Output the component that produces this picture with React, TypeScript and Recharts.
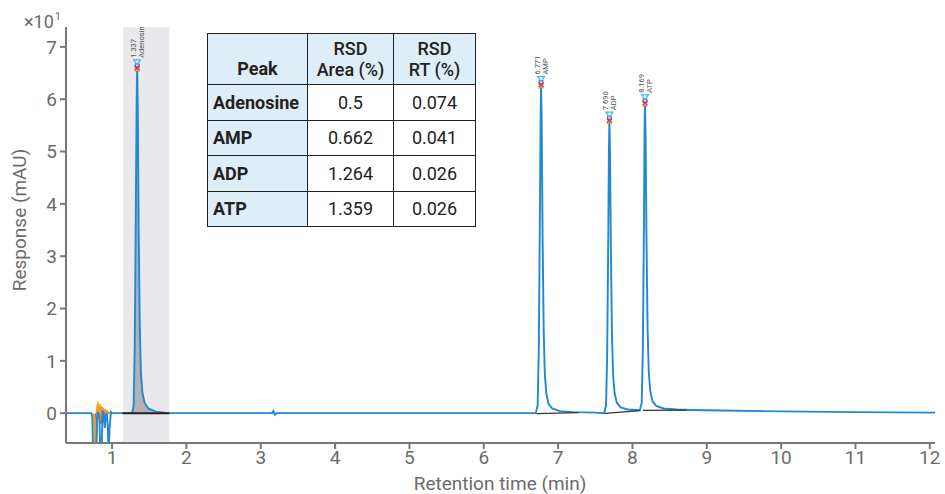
import React from 'react';
import { ComposedChart, Line, Area, XAxis, YAxis, ReferenceArea, Scatter } from 'recharts';

// ---- data (response in x10 mAU, time in min) ----
const xTicks = [1, 2, 3, 4, 5, 6, 7, 8, 9, 10, 11, 12];
const yTicks = [0, 1, 2, 3, 4, 5, 6, 7];

const blueTrace = [
  { t: 0.38, v: 0 }, { t: 0.72, v: 0 }, { t: 0.735, v: -0.1 }, { t: 0.745, v: -0.8 },
  { t: 0.785, v: -0.8 }, { t: 0.797, v: -0.1 }, { t: 0.812, v: 0.02 }, { t: 0.828, v: -0.05 },
  { t: 0.843, v: -0.8 }, { t: 0.858, v: -0.8 }, { t: 0.872, v: 0.05 }, { t: 0.885, v: 0.0 },
  { t: 0.902, v: -0.28 }, { t: 0.915, v: -0.05 }, { t: 0.927, v: 0.0 }, { t: 0.94, v: -0.2 },
  { t: 0.955, v: -0.8 }, { t: 0.965, v: -0.3 }, { t: 0.985, v: 0.02 }, { t: 1.0, v: 0 },
  { t: 1.27, v: 0.0 }, { t: 1.29, v: 0.15 }, { t: 1.305, v: 1.3 }, { t: 1.32, v: 4.0 },
  { t: 1.33, v: 5.9 }, { t: 1.337, v: 6.6 }, { t: 1.345, v: 5.9 }, { t: 1.357, v: 3.6 },
  { t: 1.372, v: 1.7 }, { t: 1.387, v: 0.8 }, { t: 1.407, v: 0.4 }, { t: 1.437, v: 0.2 },
  { t: 1.487, v: 0.09 }, { t: 1.587, v: 0.03 }, { t: 1.75, v: 0.0 },
  { t: 3.15, v: 0.0 }, { t: 3.17, v: 0.04 }, { t: 3.19, v: -0.03 }, { t: 3.21, v: 0.0 },
  { t: 6.7, v: 0.0 }, { t: 6.725, v: 0.15 }, { t: 6.74, v: 1.2 }, { t: 6.755, v: 3.8 },
  { t: 6.764, v: 5.6 }, { t: 6.771, v: 6.28 }, { t: 6.779, v: 5.6 }, { t: 6.791, v: 3.4 },
  { t: 6.806, v: 1.6 }, { t: 6.821, v: 0.75 }, { t: 6.841, v: 0.38 }, { t: 6.871, v: 0.18 },
  { t: 6.921, v: 0.09 }, { t: 7.02, v: 0.04 }, { t: 7.2, v: 0.02 }, { t: 7.5, v: 0.01 },
  { t: 7.62, v: 0.0 }, { t: 7.645, v: 0.15 }, { t: 7.66, v: 1.1 }, { t: 7.675, v: 3.4 },
  { t: 7.683, v: 5.0 }, { t: 7.69, v: 5.6 }, { t: 7.698, v: 5.0 }, { t: 7.71, v: 3.1 },
  { t: 7.725, v: 1.45 }, { t: 7.74, v: 0.72 }, { t: 7.76, v: 0.38 }, { t: 7.79, v: 0.2 },
  { t: 7.84, v: 0.11 }, { t: 7.94, v: 0.07 }, { t: 8.05, v: 0.06 }, { t: 8.1, v: 0.055 },
  { t: 8.125, v: 0.2 }, { t: 8.14, v: 1.25 }, { t: 8.155, v: 3.6 }, { t: 8.162, v: 5.3 },
  { t: 8.169, v: 5.93 }, { t: 8.177, v: 5.3 }, { t: 8.189, v: 3.3 }, { t: 8.204, v: 1.6 },
  { t: 8.219, v: 0.8 }, { t: 8.239, v: 0.42 }, { t: 8.269, v: 0.23 }, { t: 8.319, v: 0.14 },
  { t: 8.419, v: 0.09 }, { t: 8.6, v: 0.07 }, { t: 8.8, v: 0.06 }, { t: 9.2, v: 0.05 },
  { t: 10.0, v: 0.035 }, { t: 11.0, v: 0.02 }, { t: 12.07, v: 0.01 },
];

const orangeTrace = [
  { t: 0.72, v: 0 }, { t: 0.765, v: -0.05 }, { t: 0.775, v: -0.8 }, { t: 0.79, v: -0.8 },
  { t: 0.8, v: 0.05 }, { t: 0.812, v: 0.18 }, { t: 0.822, v: -0.12 }, { t: 0.835, v: 0.14 },
  { t: 0.847, v: -0.15 }, { t: 0.857, v: 0.12 }, { t: 0.87, v: -0.05 }, { t: 0.882, v: 0.1 },
  { t: 0.895, v: -0.1 }, { t: 0.91, v: 0.08 }, { t: 0.925, v: -0.05 }, { t: 0.94, v: 0.03 },
  { t: 0.96, v: 0.0 }, { t: 1.0, v: 0 },
];

const yellowTrace = [
  { t: 0.75, v: 0 }, { t: 0.768, v: -0.8 }, { t: 0.782, v: -0.3 }, { t: 0.795, v: 0.12 },
  { t: 0.81, v: 0.22 }, { t: 0.825, v: 0.05 }, { t: 0.84, v: 0.18 }, { t: 0.855, v: 0.02 },
  { t: 0.87, v: 0.12 }, { t: 0.89, v: 0.02 }, { t: 0.92, v: 0.04 }, { t: 0.95, v: 0 }, { t: 1.0, v: 0 },
];

const redTrace = [
  { t: 0.78, v: 0 }, { t: 0.795, v: -0.4 }, { t: 0.805, v: 0.08 }, { t: 0.82, v: -0.1 },
  { t: 0.832, v: 0.12 }, { t: 0.85, v: -0.2 }, { t: 0.862, v: 0.06 }, { t: 0.88, v: -0.12 },
  { t: 0.9, v: 0.05 }, { t: 0.92, v: -0.04 }, { t: 0.94, v: 0 }, { t: 1.0, v: 0 },
];

const adenosineArea = [
  { t: 1.27, v: 0.0 }, { t: 1.29, v: 0.15 }, { t: 1.305, v: 1.3 }, { t: 1.32, v: 4.0 },
  { t: 1.33, v: 5.9 }, { t: 1.337, v: 6.6 }, { t: 1.345, v: 5.9 }, { t: 1.357, v: 3.6 },
  { t: 1.372, v: 1.7 }, { t: 1.387, v: 0.8 }, { t: 1.407, v: 0.4 }, { t: 1.437, v: 0.2 },
  { t: 1.487, v: 0.09 }, { t: 1.587, v: 0.03 }, { t: 1.75, v: 0.0 },
];

const baseAdenosine = [{ t: 1.14, v: 0 }, { t: 1.77, v: 0 }];
const baseAMP = [{ t: 6.71, v: -0.01 }, { t: 7.27, v: 0.01 }];
const baseADP = [{ t: 7.63, v: -0.005 }, { t: 8.1, v: 0.05 }];
const baseATP = [{ t: 8.14, v: 0.055 }, { t: 8.73, v: 0.06 }];

const peaks = [
  { t: 1.337, v: 6.6, rt: '1.337', name: 'Adenosin' },
  { t: 6.771, v: 6.28, rt: '6.771', name: 'AMP' },
  { t: 7.69, v: 5.6, rt: '7.690', name: 'ADP' },
  { t: 8.169, v: 5.93, rt: '8.169', name: 'ATP' },
];

const tableHeader = ['Peak', 'RSD\nArea (%)', 'RSD\nRT (%)'];
const tablePeaks = ['Adenosine', 'AMP', 'ADP', 'ATP'];
const rsdArea = ['0.5', '0.662', '1.264', '1.359'];
const rsdRT = ['0.074', '0.041', '0.026', '0.026'];

const FONT = 'Roboto, sans-serif';
const AXIS = '#777';
const TXT = '#6b6b6b';

const PeakMarker = (props: any) => {
  const { cx, cy, payload } = props;
  if (cx == null || cy == null) return null;
  return (
    <g>
      <path d={`M${cx - 2.5},${cy - 1} L${cx + 2.5},${cy + 4} M${cx + 2.5},${cy - 1} L${cx - 2.5},${cy + 4}`} stroke="#f2b134" strokeWidth={1.3} />
      <path d={`M${cx - 2.5},${cy - 2.5} L${cx + 2.5},${cy + 2.5} M${cx + 2.5},${cy - 2.5} L${cx - 2.5},${cy + 2.5}`} stroke="#e0304a" strokeWidth={1.4} />
      <rect x={cx - 1.8} y={cy - 4} width={3.6} height={3.6} fill="none" stroke="#8a4fb0" strokeWidth={1} />
      <path d={`M${cx - 3.5},${cy - 8} L${cx + 3.5},${cy - 8} L${cx},${cy - 3} Z`} fill="none" stroke="#38bfe0" strokeWidth={1.2} />
      <text transform={`translate(${cx - 1},${cy - 10}) rotate(-90)`} fontSize={7.5} fill="#555" fontFamily="Roboto, sans-serif">{payload.rt}</text>
      <text transform={`translate(${cx + 7},${cy - 10}) rotate(-90)`} fontSize={7.5} fill="#555" fontFamily="Roboto, sans-serif">{payload.name}</text>
    </g>
  );
};

const cellBase: React.CSSProperties = {
  border: '1.5px solid #222',
  padding: 0,
  fontFamily: 'Roboto, sans-serif',
  fontSize: 18,
  color: '#222',
  textAlign: 'center',
  verticalAlign: 'middle',
};
const blue = '#deeef9';

export default function App() {
  return (
    <div style={{ position: 'absolute', left: 0, top: 0, width: 945, height: 494, background: '#fff' }}>
      <ComposedChart width={945} height={494} margin={{ top: 27, right: 10, bottom: 0, left: 0 }}>
        <XAxis
          type="number"
          dataKey="t"
          domain={[0.38, 12.07]}
          ticks={xTicks}
          allowDataOverflow
          height={51}
          stroke={AXIS}
          strokeWidth={2}
          tickSize={6}
          tick={{ fill: TXT, fontSize: 19, fontFamily: FONT }}
          tickMargin={2}
        />
        <YAxis
          type="number"
          dataKey="v"
          domain={[-0.57, 7.38]}
          ticks={yTicks}
          allowDataOverflow
          width={66}
          stroke={AXIS}
          strokeWidth={2}
          tickSize={6}
          tick={{ fill: TXT, fontSize: 19, fontFamily: FONT }}
          tickMargin={3}
        />
        <ReferenceArea x1={1.15} x2={1.77} fill="#e8e8ed" fillOpacity={1} stroke="none" />
        <Area data={adenosineArea} dataKey="v" type="linear" fill="#b3b3b3" fillOpacity={1} stroke="none" isAnimationActive={false} />
        <Line data={yellowTrace} dataKey="v" type="linear" stroke="#f5c518" strokeWidth={1.6} dot={false} isAnimationActive={false} />
        <Line data={redTrace} dataKey="v" type="linear" stroke="#e8473c" strokeWidth={1.6} dot={false} isAnimationActive={false} />
        <Line data={orangeTrace} dataKey="v" type="linear" stroke="#f39a2c" strokeWidth={1.6} dot={false} isAnimationActive={false} />
        <Line data={blueTrace} dataKey="v" type="linear" stroke="#2189d2" strokeWidth={1.9} dot={false} isAnimationActive={false} />
        <Line data={baseAdenosine} dataKey="v" type="linear" stroke="#222" strokeWidth={2} dot={false} isAnimationActive={false} />
        <Line data={baseAMP} dataKey="v" type="linear" stroke="#333" strokeWidth={1.3} dot={false} isAnimationActive={false} />
        <Line data={baseADP} dataKey="v" type="linear" stroke="#333" strokeWidth={1.3} dot={false} isAnimationActive={false} />
        <Line data={baseATP} dataKey="v" type="linear" stroke="#333" strokeWidth={1.3} dot={false} isAnimationActive={false} />
        <Scatter data={peaks} dataKey="v" shape={<PeakMarker />} isAnimationActive={false} />
      </ComposedChart>
      <svg width={945} height={494} style={{ position: 'absolute', left: 0, top: 0, pointerEvents: 'none' }}>
        <text x={24} y={28} fontSize={18} fill={TXT} fontFamily={FONT}>
          <tspan>×10</tspan>
          <tspan dx={1} dy={-8} fontSize={11}>1</tspan>
        </text>
        <text transform="translate(26,220) rotate(-90)" textAnchor="middle" fontSize={19} fill={TXT} fontFamily={FONT}>Response (mAU)</text>
        <text x={500} y={490} textAnchor="middle" fontSize={19} fill={TXT} fontFamily={FONT}>Retention time (min)</text>
      </svg>
      <table
        style={{
          position: 'absolute', left: 207, top: 33, width: 268, height: 194,
          borderCollapse: 'collapse', tableLayout: 'fixed', background: '#fff',
        }}
      >
        <colgroup>
          <col style={{ width: 100 }} />
          <col style={{ width: 86 }} />
          <col style={{ width: 82 }} />
        </colgroup>
        <tbody>
          <tr style={{ height: 51 }}>
            {tableHeader.map((h, i) => (
              <td key={i} style={{ ...cellBase, background: blue, fontWeight: i === 0 ? 'bold' : 500, verticalAlign: i === 0 ? 'bottom' : 'middle', paddingBottom: i === 0 ? 5 : 0, lineHeight: '21px', whiteSpace: 'pre-line' }}>
                {h}
              </td>
            ))}
          </tr>
          {tablePeaks.map((p, r) => (
            <tr key={p} style={{ height: 35.5 }}>
              <td style={{ ...cellBase, background: blue, fontWeight: 'bold', textAlign: 'left', paddingLeft: 5 }}>{p}</td>
              <td style={cellBase}>{rsdArea[r]}</td>
              <td style={cellBase}>{rsdRT[r]}</td>
            </tr>
          ))}
        </tbody>
      </table>
    </div>
  );
}
